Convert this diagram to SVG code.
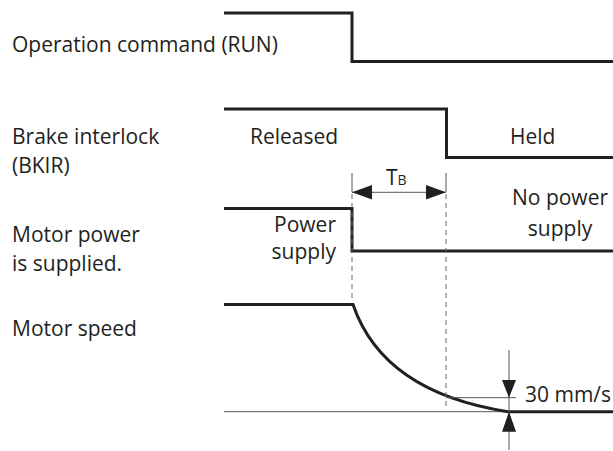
<svg xmlns="http://www.w3.org/2000/svg" width="613" height="451" viewBox="0 0 613 451">
<style>
text{font-family:"Open Sans","Noto Sans",sans-serif;font-size:21px;fill:#231f20}
.sig{fill:none;stroke:#231f20;stroke-width:3}
.thin{fill:none;stroke:#555;stroke-width:1}
.dash{fill:none;stroke:#666;stroke-width:1;stroke-dasharray:5 4}
.ah{fill:#231f20}
</style>
<rect width="613" height="451" fill="#fff"/>
<g id="labels">
<text x="12" y="52">Operation command (RUN)</text>
<text x="12" y="144">Brake interlock</text>
<text x="12" y="173">(BKIR)</text>
<text x="12" y="242">Motor power</text>
<text x="12" y="271">is supplied.</text>
<text x="12" y="336">Motor speed</text>
</g>
<g id="run"><path class="sig" d="M224,13 H352 V61.5 H613"/></g>
<g id="bkir"><path class="sig" d="M224,109 H446.5 V157.5 H613"/>
<text x="250" y="144">Released</text>
<text x="510" y="144">Held</text></g>
<g id="power"><path class="sig" d="M224,208.5 H352 V251 H613"/>
<text x="336" y="232" text-anchor="end">Power</text>
<text x="336" y="259" text-anchor="end">supply</text>
<text x="560" y="205" text-anchor="middle">No power</text>
<text x="560" y="236" text-anchor="middle">supply</text></g>
<g id="speed"><path class="thin" d="M224,411.7 H508"/>
<path class="sig" d="M224,304.5 H353 C372,360 420,398 508,411.7 H613"/></g>
<g id="connectors">
<path class="thin" d="M352,173 V192 M446,173 V192 M352,192.3 H446"/>
<path class="dash" d="M352,194 V302 M446,194 V406"/>
<path class="ah" d="M352,192.3 L372,185 L372,199.6 Z M446,192.3 L426,185 L426,199.6 Z"/>
<path class="thin" d="M509,350 V450 M446,397.7 H516"/>
<path class="ah" d="M509,397.7 L502,380 L516,380 Z M509,411.7 L502,431.7 L516,431.7 Z"/>
</g>
<g id="dims">
<text x="386" y="185" font-size="20">T<tspan font-size="14">B</tspan></text>
<text x="525" y="402">30 mm/s</text>
</g>
</svg>
